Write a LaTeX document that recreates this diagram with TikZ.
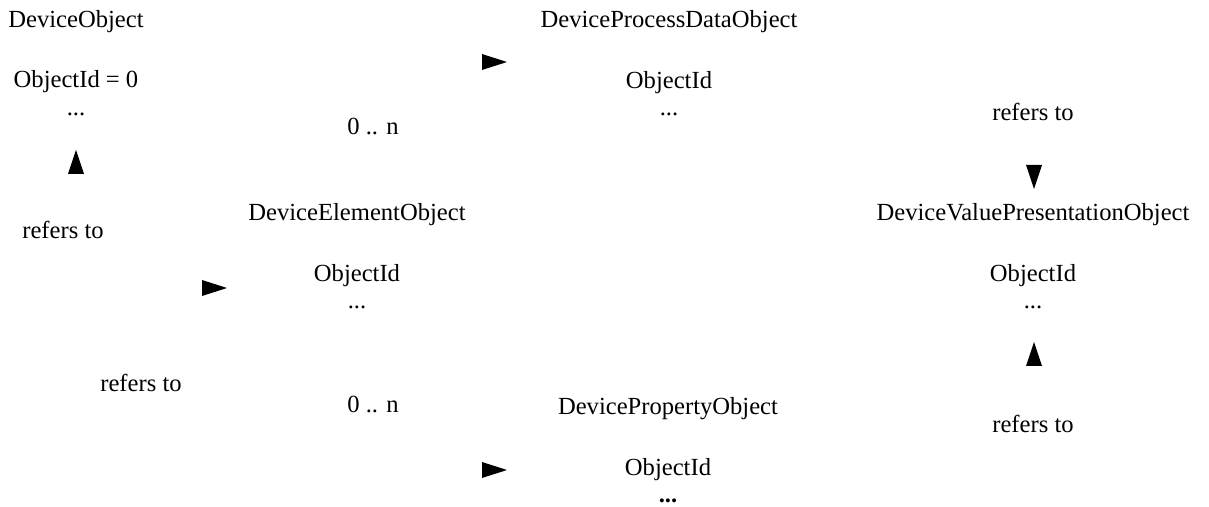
\documentclass[tikz,border=0pt]{standalone}
\usepackage{fontspec}
\setmainfont{Liberation Serif}
\begin{document}
\begin{tikzpicture}[x=0.5pt,y=-0.5pt,
  lbl/.style={inner sep=0pt,font=\fontsize{12.3}{14}\selectfont},
  tri/.style={fill=black}]
\useasboundingbox (0,0) rectangle (1209,507);
% DeviceObject
\node[lbl] (do) at (76,22) {DeviceObject};
\node[lbl] (doid) at (76,82) {ObjectId = 0};
\node[lbl] (dodots) at (76,114) {...};
% DeviceProcessDataObject
\node[lbl] (dp) at (669,22) {DeviceProcessDataObject};
\node[lbl] (dpid) at (669,83) {ObjectId};
\node[lbl] (dpdots) at (669,114) {...};
% DeviceElementObject
\node[lbl] (de) at (357,215) {DeviceElementObject};
\node[lbl] (deid) at (357,276) {ObjectId};
\node[lbl] (dedots) at (357,307) {...};
% DeviceValuePresentationObject
\node[lbl] (dv) at (1033,215) {DeviceValuePresentationObject};
\node[lbl] (dvid) at (1033,276) {ObjectId};
\node[lbl] (dvdots) at (1033,307) {...};
% DevicePropertyObject
\node[lbl] (dpr) at (668,409) {DevicePropertyObject};
\node[lbl] (dprid) at (668,470) {ObjectId};
\node[lbl,font=\fontsize{12.3}{14}\selectfont\bfseries] (dprdots) at (668,501) {...};
% labels
\node[lbl] (r1) at (63,230) {refers to};
\node[lbl] (r2) at (141,383) {refers to};
\node[lbl] (r3) at (1033,112) {refers to};
\node[lbl] (r4) at (1033,424) {refers to};
\node[lbl] (n1) at (373,126) {0 .. n};
\node[lbl] (n2) at (373,404) {0 .. n};
% arrowheads
\coordinate (t1) at (76,162);
\fill[tri] (t1) ++(-8,12) -- ++(8,-24) -- ++(8,24) -- cycle;
\coordinate (t2) at (214,288);
\fill[tri] (t2) ++(-12,-8) -- ++(25,8) -- ++(-25,8) -- cycle;
\coordinate (t3) at (494,62);
\fill[tri] (t3) ++(-12,-8) -- ++(25,8) -- ++(-25,8) -- cycle;
\coordinate (t4) at (494,470);
\fill[tri] (t4) ++(-12,-8) -- ++(25,8) -- ++(-25,8) -- cycle;
\coordinate (t5) at (1034,177);
\fill[tri] (t5) ++(-8,-12) -- ++(8,24) -- ++(8,-24) -- cycle;
\coordinate (t6) at (1034,354);
\fill[tri] (t6) ++(-8,12) -- ++(8,-24) -- ++(8,24) -- cycle;
\end{tikzpicture}
\end{document}
